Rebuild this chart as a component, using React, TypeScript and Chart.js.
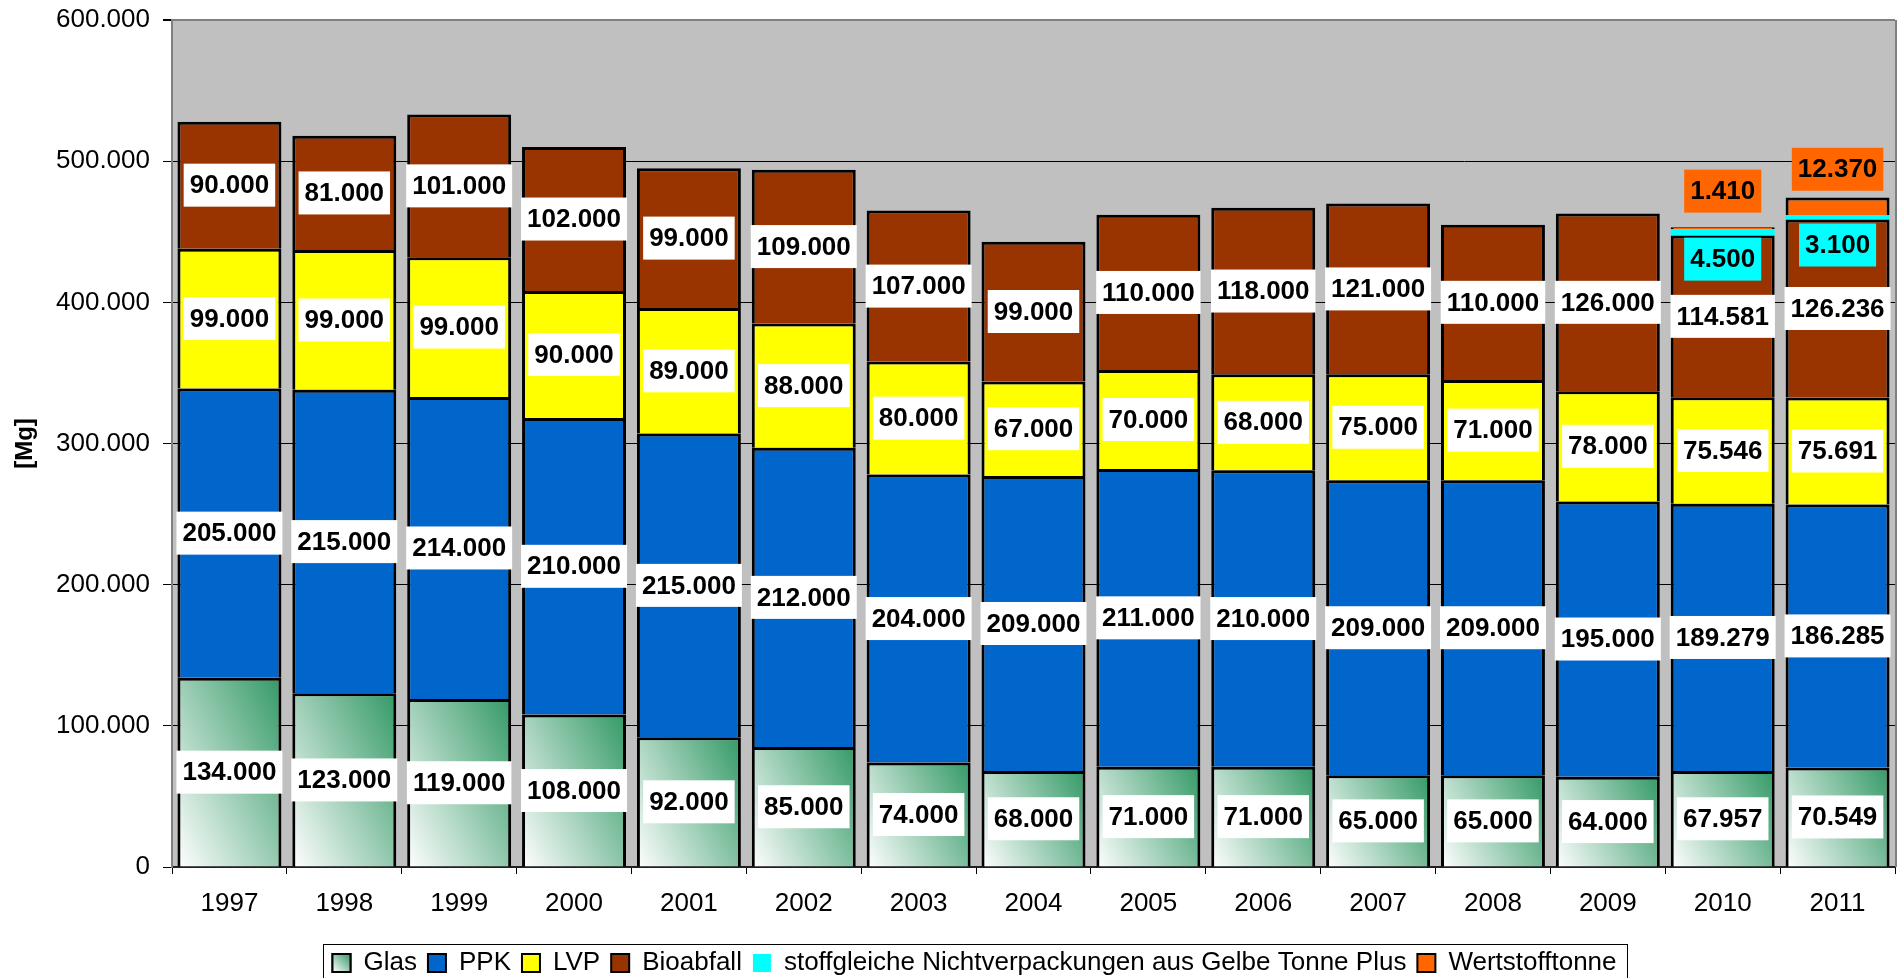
import React, { useEffect, useRef } from 'react';
import { Chart, registerables } from 'chart.js';

Chart.register(...registerables);

const years = ['1997', '1998', '1999', '2000', '2001', '2002', '2003', '2004', '2005', '2006', '2007', '2008', '2009', '2010', '2011'];
const glas = [134000, 123000, 119000, 108000, 92000, 85000, 74000, 68000, 71000, 71000, 65000, 65000, 64000, 67957, 70549];
const ppk = [205000, 215000, 214000, 210000, 215000, 212000, 204000, 209000, 211000, 210000, 209000, 209000, 195000, 189279, 186285];
const lvp = [99000, 99000, 99000, 90000, 89000, 88000, 80000, 67000, 70000, 68000, 75000, 71000, 78000, 75546, 75691];
const bioabfall = [90000, 81000, 101000, 102000, 99000, 109000, 107000, 99000, 110000, 118000, 121000, 110000, 126000, 114581, 126236];
const nichtverpackungen = [null, null, null, null, null, null, null, null, null, null, null, null, null, 4500, 3100];
const wertstofftonne = [null, null, null, null, null, null, null, null, null, null, null, null, null, 1410, 12370];
const yTickValues = [0, 100000, 200000, 300000, 400000, 500000, 600000];

const FONT = '"Liberation Sans", Arial, sans-serif';
const BAR_PCT = 0.905;

const fmt = (v: number) => String(Math.round(v)).replace(/\B(?=(\d{3})+(?!\d))/g, '.');

const glasFill = (c: any) => {
  const chart = c.chart;
  const area = chart.chartArea;
  if (c.type !== 'data' || !area || !chart.scales.x) return '#99ccb2';
  const xs = chart.scales.x;
  const ys = chart.scales.y;
  const cx = xs.getPixelForValue(c.dataIndex);
  const half = ((area.right - area.left) / years.length) * BAR_PCT / 2;
  const left = cx - half;
  const w = half * 2;
  const bottom = ys.getPixelForValue(0);
  const top = ys.getPixelForValue(c.raw);
  const h = bottom - top;
  const k = 0.5;
  const p = (w + k * h) / (1 + k * k);
  const g = chart.ctx.createLinearGradient(left, bottom, left + p, bottom - k * p);
  g.addColorStop(0, '#ffffff');
  g.addColorStop(1, '#339966');
  return g;
};

const chartDecor = {
  id: 'chartDecor',
  beforeDraw(chart: any) {
    const { ctx, chartArea: a } = chart;
    ctx.save();
    ctx.fillStyle = '#ffffff';
    ctx.fillRect(0, 0, chart.width, chart.height);
    ctx.fillStyle = '#c0c0c0';
    ctx.fillRect(a.left, a.top, a.right - a.left, a.bottom - a.top);
    ctx.restore();
  },
  afterDatasetsDraw(chart: any) {
    const ctx = chart.ctx;
    ctx.save();
    ctx.font = `bold 26px ${FONT}`;
    ctx.textAlign = 'center';
    ctx.textBaseline = 'middle';
    chart.data.datasets.forEach((ds: any, di: number) => {
      const meta = chart.getDatasetMeta(di);
      meta.data.forEach((el: any, i: number) => {
        const v = ds.data[i];
        if (v == null) return;
        let cy = (el.y + el.base) / 2;
        let fill = '#ffffff';
        if (ds.label.startsWith('stoffgleiche')) {
          cy = el.y + 30;
          fill = '#00ffff';
        } else if (ds.label === 'Wertstofftonne') {
          cy = (el.y + el.base) / 2 - 37;
          fill = '#ff6600';
        }
        const text = fmt(v);
        const tw = ctx.measureText(text).width;
        const bw = tw + 12;
        const bh = 43;
        ctx.fillStyle = fill;
        ctx.fillRect(el.x - bw / 2, cy - bh / 2, bw, bh);
        ctx.fillStyle = '#000000';
        ctx.fillText(text, el.x, cy + 1);
      });
    });
    ctx.restore();
  },
  afterDraw(chart: any) {
    const { ctx, chartArea: a } = chart;
    ctx.save();
    ctx.strokeStyle = '#808080';
    ctx.lineWidth = 2;
    ctx.beginPath();
    ctx.moveTo(a.right + 1, a.top);
    ctx.lineTo(a.right + 1, a.bottom);
    ctx.stroke();
    const lg = chart.legend;
    const hbs = lg && lg.legendHitBoxes;
    if (hbs && hbs.length) {
      const l = Math.min(...hbs.map((h: any) => h.left)) - 9;
      const r = Math.max(...hbs.map((h: any) => h.left + h.width)) + 11;
      const t = hbs[0].top - 6;
      const b = hbs[0].top + hbs[0].height + 6;
      ctx.strokeStyle = '#000000';
      ctx.lineWidth = 1;
      ctx.strokeRect(Math.round(l) + 0.5, Math.round(t) + 0.5, Math.round(r - l), Math.round(b - t));
      const h0 = hbs[0];
      const x = h0.left;
      const y = h0.top + 4;
      const g = ctx.createLinearGradient(x, y + 18, x + 18, y);
      g.addColorStop(0, '#ffffff');
      g.addColorStop(1, '#339966');
      ctx.fillStyle = g;
      ctx.fillRect(x, y, 18, 18);
      ctx.lineWidth = 2;
      ctx.strokeRect(x, y, 18, 18);
    }
    ctx.restore();
  },
};

export default function App() {
  const ref = useRef<HTMLCanvasElement>(null);

  useEffect(() => {
    if (!ref.current) return;
    Chart.defaults.color = '#000000';
    const common = { stack: 's', borderColor: '#000000', borderWidth: 3, barPercentage: BAR_PCT, categoryPercentage: 1 };
    const chart = new Chart(ref.current, {
      type: 'bar',
      data: {
        labels: years,
        datasets: [
          { ...common, label: 'Glas', data: glas, backgroundColor: glasFill },
          { ...common, label: 'PPK', data: ppk, backgroundColor: '#0066cc' },
          { ...common, label: 'LVP', data: lvp, backgroundColor: '#ffff00' },
          { ...common, label: 'Bioabfall', data: bioabfall, backgroundColor: '#993300' },
          { ...common, label: 'stoffgleiche Nichtverpackungen aus Gelbe Tonne Plus', data: nichtverpackungen, backgroundColor: '#00ffff', borderWidth: 0 },
          { ...common, label: 'Wertstofftonne', data: wertstofftonne, backgroundColor: '#ff6600' },
        ] as any,
      },
      options: {
        responsive: false,
        animation: false,
        devicePixelRatio: 1,
        layout: { padding: { left: 54, right: 4, top: 20, bottom: 0 } },
        plugins: {
          tooltip: { enabled: false },
          legend: {
            position: 'bottom',
            labels: {
              font: { size: 26, family: FONT },
              color: '#000000',
              boxWidth: 18,
              boxHeight: 18,
              padding: 11,
              generateLabels: (c: any) =>
                (Chart.defaults.plugins.legend.labels as any).generateLabels(c).map((l: any) => ({
                  ...l,
                  lineWidth: l.lineWidth ? 2 : 0,
                  strokeStyle: '#000000',
                })),
            },
          },
        },
        scales: {
          x: {
            stacked: true,
            grid: { display: true, drawOnChartArea: false, drawTicks: true, tickLength: 7, color: '#000000', offset: true },
            border: { display: true, color: '#202020', width: 2 },
            ticks: { font: { size: 26, family: FONT }, color: '#000000', padding: 14 },
            afterFit: (s: any) => { s.height = 72; },
          },
          y: {
            stacked: true,
            min: 0,
            max: 600000,
            afterBuildTicks: (s: any) => { s.ticks = yTickValues.map((v) => ({ value: v })); },
            grid: {
              color: (c: any) => (c.tick && c.tick.value === 600000 ? '#808080' : '#000000'),
              lineWidth: (c: any) => (c.tick && c.tick.value === 600000 ? 2 : 1),
              tickColor: '#000000',
              tickLength: 9,
              drawTicks: true,
            },
            border: { display: true, color: '#808080', width: 2 },
            ticks: { font: { size: 26, family: FONT }, color: '#000000', padding: 13, callback: (v: any) => fmt(Number(v)) },
            title: { display: true, text: '[Mg]', font: { size: 24, weight: 'bold', family: FONT }, color: '#000000', padding: { top: -43, bottom: 0 } },
            afterFit: (s: any) => {
              s.width = 118;
              s.paddingTop = 0;
              s.paddingBottom = 0;
            },
          },
        },
      } as any,
      plugins: [chartDecor],
    });
    return () => chart.destroy();
  }, []);

  return (
    <div style={{ position: 'fixed', left: 0, top: 0, width: 1899, height: 986, background: '#ffffff' }}>
      <canvas ref={ref} width={1899} height={986} style={{ display: 'block', width: 1899, height: 986 }} />
    </div>
  );
}
